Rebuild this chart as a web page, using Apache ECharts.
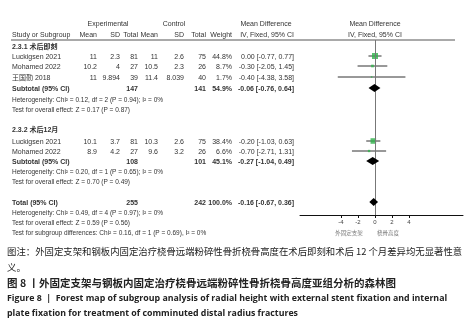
<!DOCTYPE html>
<html>
<head>
<meta charset="utf-8">
<script src="https://cdn.jsdelivr.net/npm/echarts@6/dist/echarts.min.js"></script>
<style>
html, body { margin: 0; padding: 0; background: #fff; }
#forest { width: 468px; height: 330px; }
</style>
</head>
<body>
<div id="forest"></div>
<script>
// 亚组1：术后即刻
var g1Study = ['Luckigsen 2021', 'Mohamed 2022', '王国勤 2018'];
var g1EMean = [11, 10.2, 11];
var g1ESD = [2.3, 4, 9.894];
var g1EN = [81, 27, 39];
var g1CMean = [11, 10.5, 11.4];
var g1CSD = [2.6, 2.3, 8.039];
var g1CN = [75, 26, 40];
var g1Weight = [44.8, 8.7, 1.7];
var g1MD = [0.00, -0.30, -0.40];
var g1Lo = [-0.77, -2.05, -4.38];
var g1Hi = [0.77, 1.45, 3.58];

// 亚组2：术后12月
var g2Study = ['Luckigsen 2021', 'Mohamed 2022'];
var g2EMean = [10.1, 8.9];
var g2ESD = [3.7, 4.2];
var g2EN = [81, 27];
var g2CMean = [10.3, 9.6];
var g2CSD = [2.6, 3.2];
var g2CN = [75, 26];
var g2Weight = [38.4, 6.6];
var g2MD = [-0.20, -0.70];
var g2Lo = [-1.03, -2.71];
var g2Hi = [0.63, 1.31];

// 合计行：subtotal 1, subtotal 2, total
var sumLabel = ['Subtotal (95% CI)', 'Subtotal (95% CI)', 'Total (95% CI)'];
var sumEN = [147, 108, 255];
var sumCN = [141, 101, 242];
var sumWeight = [54.9, 45.1, 100.0];
var sumMD = [-0.06, -0.27, -0.16];
var sumLo = [-0.76, -1.04, -0.67];
var sumHi = [0.64, 0.49, 0.36];

var groupTitle = ['2.3.1 术后即刻', '2.3.2 术后12月'];
var hetText = [
  'Heterogeneity: Chi² = 0.12, df = 2 (P = 0.94); I² = 0%',
  'Heterogeneity: Chi² = 0.20, df = 1 (P = 0.65); I² = 0%',
  'Heterogeneity: Chi² = 0.49, df = 4 (P = 0.97); I² = 0%'
];
var effText = [
  'Test for overall effect: Z = 0.17 (P = 0.87)',
  'Test for overall effect: Z = 0.70 (P = 0.49)',
  'Test for overall effect: Z = 0.59 (P = 0.56)'
];
var subgroupText = 'Test for subgroup differences: Chi² = 0.16, df = 1 (P = 0.69), I² = 0%';
var axisTicks = [-4, -2, 0, 2, 4];
var favourText = ['外固定支架', '桡骨高度'];

// 版面
var ZERO_X = 375, PX_PER_UNIT = 8.5, PLOT_L = 300, PLOT_R = 463;
var PLOT_TOP = 40, AXIS_Y = 215;
var g1Rows = [57, 67, 78], g2Rows = [142, 152];
var sumRows = [89, 162, 203];
var titleRows = [47, 130];
var hetRows = [100, 172, 213], effRows = [110, 182, 223];
var COL = { name: 12, eMean: 97, eSD: 120, eN: 138, cMean: 158, cSD: 184, cN: 206, w: 232, ci: 294 };

var FONT = '"Liberation Sans Narrow", "Liberation Sans", "Noto Sans CJK SC", sans-serif';
var TXT = '#333';
var gfx = [];

function txt(x, y, s, align, bold, size, color, family) {
  gfx.push({
    type: 'text', x: x, y: y, silent: true,
    style: {
      text: s, fill: color || TXT,
      fontSize: size || 7, fontWeight: bold ? 'bold' : 'normal',
      fontFamily: family || FONT,
      align: align || 'left', verticalAlign: 'middle'
    }
  });
}
function ciStr(md, lo, hi) {
  return md.toFixed(2) + ' [' + lo.toFixed(2) + ', ' + hi.toFixed(2) + ']';
}

// 表头
txt(108, 24, 'Experimental', 'center');
txt(174, 24, 'Control', 'center');
txt(266, 24, 'Mean Difference', 'center');
txt(ZERO_X, 24, 'Mean Difference', 'center');
txt(COL.name, 35, 'Study or Subgroup', 'left');
txt(COL.eMean, 35, 'Mean', 'right');
txt(COL.eSD, 35, 'SD', 'right');
txt(COL.eN, 35, 'Total', 'right');
txt(COL.cMean, 35, 'Mean', 'right');
txt(COL.cSD, 35, 'SD', 'right');
txt(COL.cN, 35, 'Total', 'right');
txt(COL.w, 35, 'Weight', 'right');
txt(COL.ci, 35, 'IV, Fixed, 95% CI', 'right');
txt(ZERO_X, 35, 'IV, Fixed, 95% CI', 'center');
gfx.push({ type: 'line', silent: true, shape: { x1: 11, y1: 40, x2: 455, y2: 40 }, style: { stroke: '#555', lineWidth: 1 } });

function studyRows(names, em, es, en, cm, cs, cn, w, md, lo, hi, rows) {
  for (var i = 0; i < names.length; i++) {
    var y = rows[i];
    txt(COL.name, y, names[i]);
    txt(COL.eMean, y, String(em[i]), 'right');
    txt(COL.eSD, y, String(es[i]), 'right');
    txt(COL.eN, y, String(en[i]), 'right');
    txt(COL.cMean, y, String(cm[i]), 'right');
    txt(COL.cSD, y, String(cs[i]), 'right');
    txt(COL.cN, y, String(cn[i]), 'right');
    txt(COL.w, y, w[i].toFixed(1) + '%', 'right');
    txt(COL.ci, y, ciStr(md[i], lo[i], hi[i]), 'right');
  }
}
txt(COL.name, titleRows[0], groupTitle[0], 'left', true);
studyRows(g1Study, g1EMean, g1ESD, g1EN, g1CMean, g1CSD, g1CN, g1Weight, g1MD, g1Lo, g1Hi, g1Rows);
txt(COL.name, titleRows[1], groupTitle[1], 'left', true);
studyRows(g2Study, g2EMean, g2ESD, g2EN, g2CMean, g2CSD, g2CN, g2Weight, g2MD, g2Lo, g2Hi, g2Rows);

for (var k = 0; k < 3; k++) {
  var y = sumRows[k];
  txt(COL.name, y, sumLabel[k], 'left', true);
  txt(COL.eN, y, String(sumEN[k]), 'right', true);
  txt(COL.cN, y, String(sumCN[k]), 'right', true);
  txt(COL.w, y, sumWeight[k].toFixed(1) + '%', 'right', true);
  txt(COL.ci, y, ciStr(sumMD[k], sumLo[k], sumHi[k]), 'right', true);
  txt(COL.name, hetRows[k], hetText[k], 'left', false, 6.5);
  txt(COL.name, effRows[k], effText[k], 'left', false, 6.5);
}
txt(COL.name, 233, subgroupText, 'left', false, 6.5);
txt(349, 233, favourText[0], 'center', false, 5.5, '#777', '"Noto Sans CJK SC", sans-serif');
txt(388, 233, favourText[1], 'center', false, 5.5, '#777', '"Noto Sans CJK SC", sans-serif');

// 图注
var CJK = '"Noto Sans CJK SC", sans-serif';
var EN = '"Open Sans", "Liberation Sans", sans-serif';
txt(7, 251, '图注：外固定支架和钢板内固定治疗桡骨远端粉碎性骨折桡骨高度在术后即刻和术后 12 个月差异均无显著性意', 'left', false, 9.4, '#222', CJK);
txt(7, 267, '义。', 'left', false, 9.4, '#222', CJK);
txt(7, 283, '图 8 丨外固定支架与钢板内固定治疗桡骨远端粉碎性骨折桡骨高度亚组分析的森林图', 'left', true, 10.5, '#222', CJK);
txt(7, 298, 'Figure 8  |  Forest map of subgroup analysis of radial height with external stent fixation and internal', 'left', true, 8.8, '#222', EN);
txt(7, 313, 'plate fixation for treatment of comminuted distal radius fractures', 'left', true, 8.8, '#222', EN);

// 图形数据
var squares = [], ciLines = [], diamonds = [];
function addStudies(md, lo, hi, w, rows) {
  for (var i = 0; i < md.length; i++) {
    squares.push([md[i], rows[i] - 1, w[i]]);
    ciLines.push([lo[i], hi[i], rows[i] - 1]);
  }
}
addStudies(g1MD, g1Lo, g1Hi, g1Weight, g1Rows);
addStudies(g2MD, g2Lo, g2Hi, g2Weight, g2Rows);
for (var d = 0; d < 3; d++) diamonds.push([sumLo[d], sumMD[d], sumHi[d], sumRows[d] - 1]);

var chart = echarts.init(document.getElementById('forest'), null, { renderer: 'canvas' });
chart.setOption({
  animation: false,
  backgroundColor: '#fff',
  grid: { left: PLOT_L, right: 468 - PLOT_R, top: PLOT_TOP, bottom: 330 - AXIS_Y },
  xAxis: {
    type: 'value',
    min: (PLOT_L - ZERO_X) / PX_PER_UNIT,
    max: (PLOT_R - ZERO_X) / PX_PER_UNIT,
    axisLine: { show: true, onZero: false, lineStyle: { color: '#111', width: 1 } },
    axisTick: { show: true, customValues: axisTicks, length: 3, lineStyle: { color: '#111' } },
    axisLabel: { show: true, customValues: axisTicks, fontSize: 6, color: '#444', margin: 4, fontFamily: FONT },
    splitLine: { show: false }
  },
  yAxis: { type: 'value', min: PLOT_TOP, max: AXIS_Y, inverse: true, show: false },
  series: [
    {
      type: 'custom',
      silent: true,
      data: ciLines,
      renderItem: function (params, api) {
        var a = api.coord([api.value(0), api.value(2)]);
        var b = api.coord([api.value(1), api.value(2)]);
        return { type: 'line', shape: { x1: a[0], y1: a[1], x2: b[0], y2: b[1] }, style: { stroke: '#333', lineWidth: 1 } };
      },
      z: 3
    },
    {
      type: 'scatter',
      silent: true,
      data: squares,
      symbol: 'rect',
      symbolSize: function (v) { return Math.max(1.5, Math.sqrt(v[2]) * 0.9); },
      itemStyle: { color: '#2fb14a' },
      markLine: {
        silent: true, symbol: 'none', label: { show: false },
        lineStyle: { color: '#777', width: 1, type: 'solid' },
        data: [{ xAxis: 0 }]
      },
      z: 4
    },
    {
      type: 'custom',
      silent: true,
      data: diamonds,
      renderItem: function (params, api) {
        var y = api.value(3);
        var l = api.coord([api.value(0), y]);
        var m = api.coord([api.value(1), y]);
        var r = api.coord([api.value(2), y]);
        return {
          type: 'polygon',
          shape: { points: [[l[0], m[1]], [m[0], m[1] - 4], [r[0], m[1]], [m[0], m[1] + 4]] },
          style: { fill: '#000' }
        };
      },
      z: 5
    }
  ],
  graphic: gfx
});
</script>
</body>
</html>
